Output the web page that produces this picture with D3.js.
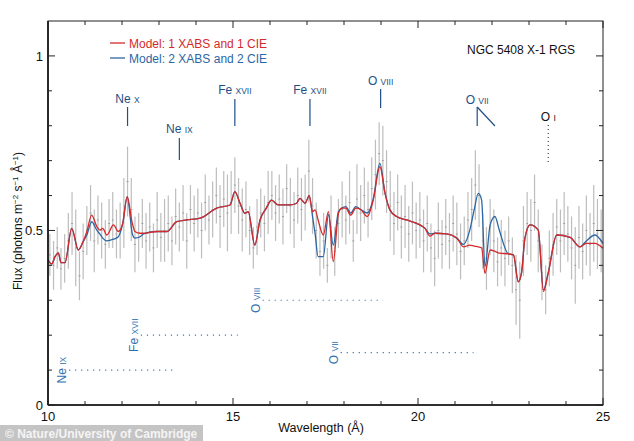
<!DOCTYPE html>
<html>
<head>
<meta charset="utf-8">
<script src="https://cdn.jsdelivr.net/npm/d3@7"></script>
<style>
  body { margin: 0; background: #fff; }
  svg { font-family: "Liberation Sans", Arial, Helvetica, sans-serif; }
</style>
</head>
<body>
<div id="chart"></div>
<script>
// observed spectrum, 0.1 A bins
const binWave = [
  10.05, 10.15, 10.25, 10.35, 10.45, 10.55, 10.65, 10.75, 10.85, 10.95,
  11.05, 11.15, 11.25, 11.35, 11.45, 11.55, 11.65, 11.75, 11.85, 11.95,
  12.05, 12.15, 12.25, 12.35, 12.45, 12.55, 12.65, 12.75, 12.85, 12.95,
  13.05, 13.15, 13.25, 13.35, 13.45, 13.55, 13.65, 13.75, 13.85, 13.95,
  14.05, 14.15, 14.25, 14.35, 14.45, 14.55, 14.65, 14.75, 14.85, 14.95,
  15.05, 15.15, 15.25, 15.35, 15.45, 15.55, 15.65, 15.75, 15.85, 15.95,
  16.05, 16.15, 16.25, 16.35, 16.45, 16.55, 16.65, 16.75, 16.85, 16.95,
  17.05, 17.15, 17.25, 17.35, 17.45, 17.55, 17.65, 17.75, 17.85, 17.95,
  18.05, 18.15, 18.25, 18.35, 18.45, 18.55, 18.65, 18.75, 18.85, 18.95,
  19.05, 19.15, 19.25, 19.35, 19.45, 19.55, 19.65, 19.75, 19.85, 19.95,
  20.05, 20.15, 20.25, 20.35, 20.45, 20.55, 20.65, 20.75, 20.85, 20.95,
  21.05, 21.15, 21.25, 21.35, 21.45, 21.55, 21.65, 21.75, 21.85, 21.95,
  22.05, 22.15, 22.25, 22.35, 22.45, 22.55, 22.65, 22.75, 22.85, 22.95,
  23.05, 23.15, 23.25, 23.35, 23.45, 23.55, 23.65, 23.75, 23.85, 23.95,
  24.05, 24.15, 24.25, 24.35, 24.45, 24.55, 24.65, 24.75, 24.85, 24.95
];
const binFlux = [
  0.43, 0.40, 0.45, 0.39, 0.42, 0.47, 0.52, 0.45, 0.37, 0.44,
  0.50, 0.55, 0.47, 0.53, 0.50, 0.46, 0.52, 0.53, 0.49, 0.50,
  0.55, 0.64, 0.56, 0.46, 0.48, 0.52, 0.47, 0.51, 0.45, 0.53,
  0.48, 0.50, 0.52, 0.47, 0.54, 0.51, 0.55, 0.47, 0.56, 0.52,
  0.55, 0.50, 0.58, 0.53, 0.56, 0.60, 0.54, 0.59, 0.55, 0.58,
  0.63, 0.57, 0.53, 0.56, 0.50, 0.45, 0.51, 0.55, 0.52, 0.58,
  0.60, 0.55, 0.59, 0.54, 0.62, 0.57, 0.53, 0.60, 0.56, 0.58,
  0.67, 0.57, 0.50, 0.44, 0.47, 0.40, 0.51, 0.44, 0.52, 0.56,
  0.53, 0.58, 0.47, 0.59, 0.55, 0.60, 0.56, 0.62, 0.66, 0.72,
  0.70, 0.64, 0.57, 0.52, 0.58, 0.51, 0.54, 0.49, 0.55, 0.50,
  0.53, 0.47, 0.52, 0.45, 0.42, 0.50, 0.46, 0.51, 0.47, 0.52,
  0.49, 0.44, 0.47, 0.53, 0.56, 0.63, 0.60, 0.47, 0.42, 0.51,
  0.47, 0.41, 0.45, 0.42, 0.47, 0.40, 0.33, 0.30, 0.47, 0.52,
  0.50, 0.58, 0.47, 0.38, 0.33, 0.42, 0.46, 0.51, 0.47, 0.52,
  0.49, 0.45, 0.40, 0.48, 0.44, 0.50, 0.46, 0.52, 0.49, 0.47
];
const binErr = [
  0.06, 0.07, 0.06, 0.06, 0.07, 0.08, 0.09, 0.11, 0.07, 0.08,
  0.07, 0.08, 0.09, 0.07, 0.08, 0.07, 0.07, 0.08, 0.07, 0.08,
  0.10, 0.10, 0.09, 0.08, 0.07, 0.07, 0.08, 0.07, 0.07, 0.08,
  0.07, 0.09, 0.08, 0.07, 0.08, 0.07, 0.08, 0.08, 0.07, 0.08,
  0.07, 0.08, 0.08, 0.07, 0.08, 0.08, 0.09, 0.08, 0.11, 0.09,
  0.08, 0.08, 0.09, 0.08, 0.07, 0.06, 0.08, 0.07, 0.08, 0.09,
  0.07, 0.08, 0.07, 0.08, 0.07, 0.08, 0.08, 0.08, 0.09, 0.08,
  0.09, 0.08, 0.08, 0.07, 0.08, 0.05, 0.09, 0.07, 0.07, 0.08,
  0.07, 0.09, 0.06, 0.10, 0.08, 0.08, 0.08, 0.09, 0.10, 0.09,
  0.10, 0.09, 0.10, 0.09, 0.08, 0.09, 0.09, 0.08, 0.09, 0.08,
  0.08, 0.09, 0.08, 0.07, 0.08, 0.08, 0.07, 0.08, 0.08, 0.08,
  0.09, 0.08, 0.07, 0.08, 0.09, 0.10, 0.09, 0.08, 0.09, 0.08,
  0.09, 0.07, 0.08, 0.08, 0.07, 0.08, 0.10, 0.11, 0.10, 0.09,
  0.09, 0.08, 0.09, 0.08, 0.07, 0.08, 0.09, 0.08, 0.09, 0.09,
  0.08, 0.09, 0.11, 0.09, 0.08, 0.10, 0.09, 0.11, 0.10, 0.09
];

// model curves
const modelWave = [
  10.00, 10.10, 10.19, 10.28, 10.35, 10.46, 10.64, 10.82, 10.95, 11.05,
  11.18, 11.32, 11.40, 11.48, 11.59, 11.77, 11.90, 12.02, 12.14, 12.28,
  12.35, 12.49, 12.58, 12.94, 13.21, 13.48, 13.75, 14.11, 14.56, 14.92,
  15.05, 15.19, 15.32, 15.41, 15.59, 15.73, 15.90, 16.04, 16.22, 16.54,
  16.72, 16.81, 16.95, 17.06, 17.15, 17.22, 17.30, 17.44, 17.58, 17.71,
  17.85, 17.94, 18.05, 18.18, 18.32, 18.45, 18.63, 18.79, 18.97, 19.11,
  19.24, 19.42, 19.69, 20.05, 20.19, 20.32, 20.46, 20.77, 21.05, 21.23,
  21.40, 21.52, 21.63, 21.72, 21.81, 21.95, 22.08, 22.20, 22.44, 22.58,
  22.71, 22.80, 22.89, 23.03, 23.25, 23.39, 23.52, 23.75, 24.11, 24.38,
  24.55, 24.78, 25.00
];
const model1 = [
  0.415, 0.404, 0.425, 0.436, 0.408, 0.408, 0.506, 0.444, 0.468, 0.497,
  0.544, 0.511, 0.501, 0.506, 0.487, 0.516, 0.497, 0.520, 0.597, 0.520,
  0.497, 0.492, 0.492, 0.497, 0.497, 0.525, 0.530, 0.535, 0.564, 0.573,
  0.611, 0.578, 0.549, 0.554, 0.458, 0.530, 0.564, 0.587, 0.573, 0.573,
  0.578, 0.592, 0.578, 0.600, 0.554, 0.559, 0.530, 0.487, 0.554, 0.411,
  0.549, 0.564, 0.564, 0.544, 0.564, 0.560, 0.540, 0.587, 0.683, 0.606,
  0.559, 0.540, 0.530, 0.516, 0.506, 0.484, 0.492, 0.490, 0.478, 0.453,
  0.458, 0.455, 0.453, 0.450, 0.377, 0.444, 0.440, 0.435, 0.433, 0.430,
  0.353, 0.380, 0.478, 0.516, 0.501, 0.325, 0.377, 0.487, 0.480, 0.453,
  0.463, 0.463, 0.449
];
const model2 = [
  0.415, 0.404, 0.425, 0.436, 0.408, 0.408, 0.506, 0.444, 0.468, 0.487,
  0.525, 0.501, 0.490, 0.478, 0.470, 0.475, 0.482, 0.520, 0.597, 0.490,
  0.478, 0.482, 0.490, 0.497, 0.497, 0.525, 0.530, 0.535, 0.564, 0.573,
  0.611, 0.578, 0.549, 0.554, 0.458, 0.530, 0.564, 0.587, 0.573, 0.573,
  0.578, 0.592, 0.578, 0.600, 0.540, 0.490, 0.425, 0.425, 0.545, 0.458,
  0.554, 0.564, 0.568, 0.550, 0.568, 0.560, 0.550, 0.590, 0.692, 0.606,
  0.559, 0.540, 0.530, 0.516, 0.506, 0.490, 0.492, 0.490, 0.478, 0.460,
  0.501, 0.560, 0.606, 0.587, 0.396, 0.516, 0.540, 0.500, 0.433, 0.430,
  0.353, 0.380, 0.478, 0.516, 0.501, 0.330, 0.380, 0.487, 0.480, 0.453,
  0.470, 0.487, 0.463
];

// line identifications
const topLines = [
  { ion: "Ne", stage: "X", wave: 12.15, ty: 103, y1: 107, y2: 126 },
  { ion: "Ne", stage: "IX", wave: 13.55, ty: 133, y1: 138, y2: 160 },
  { ion: "Fe", stage: "XVII", wave: 15.05, ty: 94, y1: 99, y2: 126 },
  { ion: "Fe", stage: "XVII", wave: 17.08, ty: 94, y1: 99, y2: 126 },
  { ion: "O", stage: "VIII", wave: 18.99, ty: 85, y1: 89, y2: 108 },
  { ion: "O", stage: "VII", wave: 21.6, ty: 104, y1: 107, y2: 126 }
];
const edgeLines = [
  { ion: "Ne", stage: "IX", flux: 0.1, w1: 10.57, w2: 13.4 },
  { ion: "Fe", stage: "XVII", flux: 0.2, w1: 12.51, w2: 15.13 },
  { ion: "O", stage: "VIII", flux: 0.3, w1: 15.8, w2: 19.05 },
  { ion: "O", stage: "VII", flux: 0.15, w1: 17.91, w2: 21.5 }
];

const W = 634, H = 441;
const x = d3.scaleLinear().domain([10, 25]).range([48, 603]);
const y = d3.scaleLinear().domain([0, 1.1]).range([405, 21]);

const svg = d3.select("#chart").append("svg")
  .attr("width", W).attr("height", H);

const red = "#d42a2a", blue = "#2c67a3", labelBlue = "#1f4f86";

// error bars
svg.append("g").selectAll("line")
  .data(binWave)
  .enter().append("line")
    .attr("x1", d => x(d)).attr("x2", d => x(d))
    .attr("y1", (d, i) => y(binFlux[i] - binErr[i]))
    .attr("y2", (d, i) => y(binFlux[i] + binErr[i]))
    .attr("stroke", "#bdbdbd")
    .attr("stroke-width", 1.2);

svg.append("g").selectAll("line")
  .data(binWave)
  .enter().append("line")
    .attr("x1", d => x(d) - 1).attr("x2", d => x(d) + 1)
    .attr("y1", (d, i) => y(binFlux[i])).attr("y2", (d, i) => y(binFlux[i]))
    .attr("stroke", "#a0a0a0")
    .attr("stroke-width", 1);

// models
const line = d3.line()
  .x(d => x(d[0])).y(d => y(d[1]))
  .curve(d3.curveMonotoneX);

svg.append("path")
  .datum(modelWave.map((w, i) => [w, model2[i]]))
  .attr("d", line).attr("fill", "none")
  .attr("stroke", blue).attr("stroke-width", 1.3);

svg.append("path")
  .datum(modelWave.map((w, i) => [w, model1[i]]))
  .attr("d", line).attr("fill", "none")
  .attr("stroke", red).attr("stroke-width", 1.3);

// frame and ticks
svg.append("rect")
  .attr("x", x(10)).attr("y", y(1.1))
  .attr("width", x(25) - x(10)).attr("height", y(0) - y(1.1))
  .attr("fill", "none").attr("stroke", "#222").attr("stroke-width", 1);
svg.append("line").attr("x1", x(10)).attr("x2", x(10)).attr("y1", y(1.1)).attr("y2", y(0))
  .attr("stroke", "#111").attr("stroke-width", 1.6);
svg.append("line").attr("x1", x(10)).attr("x2", x(25)).attr("y1", y(0)).attr("y2", y(0))
  .attr("stroke", "#111").attr("stroke-width", 1.6);

const xTicks = d3.range(10, 26, 1);
const yTicks = d3.range(0, 11, 1).map(d => d / 10);
const ticks = svg.append("g").attr("stroke", "#222").attr("stroke-width", 1);
xTicks.forEach(t => {
  const len = t % 5 === 0 ? 7 : 4;
  ticks.append("line").attr("x1", x(t)).attr("x2", x(t)).attr("y1", y(0)).attr("y2", y(0) - len);
  ticks.append("line").attr("x1", x(t)).attr("x2", x(t)).attr("y1", y(1.1)).attr("y2", y(1.1) + len);
});
yTicks.forEach(t => {
  const len = Math.round(t * 10) % 5 === 0 ? 7 : 4;
  ticks.append("line").attr("x1", x(10)).attr("x2", x(10) + len).attr("y1", y(t)).attr("y2", y(t));
  ticks.append("line").attr("x1", x(25)).attr("x2", x(25) - len).attr("y1", y(t)).attr("y2", y(t));
});

svg.append("g").selectAll("text")
  .data([10, 15, 20, 25])
  .enter().append("text")
    .attr("x", d => x(d)).attr("y", 421)
    .attr("text-anchor", "middle").attr("font-size", 13).attr("fill", "#111")
    .text(d => d);

svg.append("g").selectAll("text")
  .data([0, 0.5, 1])
  .enter().append("text")
    .attr("x", 43).attr("y", d => y(d) + 5)
    .attr("text-anchor", "end").attr("font-size", 13).attr("fill", "#111")
    .text(d => d);

// axis titles
svg.append("text")
  .attr("x", 321).attr("y", 432)
  .attr("text-anchor", "middle").attr("font-size", 12.5).attr("fill", "#111")
  .text("Wavelength (Å)");

const yt = svg.append("text")
  .attr("transform", "translate(22,221) rotate(-90)")
  .attr("text-anchor", "middle").attr("font-size", 12).attr("fill", "#111");
yt.append("tspan").text("Flux (photons m");
yt.append("tspan").attr("dy", -4).attr("font-size", 8).text("−2");
yt.append("tspan").attr("dy", 4).text(" s");
yt.append("tspan").attr("dy", -4).attr("font-size", 8).text("−1");
yt.append("tspan").attr("dy", 4).text(" Å");
yt.append("tspan").attr("dy", -4).attr("font-size", 8).text("−1");
yt.append("tspan").attr("dy", 4).text(")");

// legend
[[red, "Model: 1 XABS and 1 CIE", 43], [blue, "Model: 2 XABS and 2 CIE", 58]].forEach(d => {
  svg.append("line").attr("x1", 110).attr("x2", 125).attr("y1", d[2]).attr("y2", d[2])
    .attr("stroke", d[0]).attr("stroke-width", 1.3);
  svg.append("text").attr("x", 129).attr("y", d[2] + 4.5)
    .attr("font-size", 12).attr("fill", d[0]).text(d[1]);
});

svg.append("text").attr("x", 467).attr("y", 54)
  .attr("font-size", 12).attr("fill", "#111").text("NGC 5408 X-1 RGS");

// emission / absorption line markers
topLines.forEach(d => {
  const t = svg.append("text")
    .attr("x", x(d.wave)).attr("y", d.ty)
    .attr("text-anchor", "middle").attr("fill", labelBlue).attr("font-size", 12);
  t.append("tspan").text(d.ion + " ");
  t.append("tspan").attr("font-size", 8.5).text(d.stage);
  svg.append("line")
    .attr("x1", x(d.wave)).attr("x2", x(d.wave))
    .attr("y1", d.y1).attr("y2", d.y2)
    .attr("stroke", labelBlue).attr("stroke-width", 1.2);
});
// O VII forbidden line diagonal
svg.append("line")
  .attr("x1", x(21.6)).attr("y1", 107)
  .attr("x2", x(22.08)).attr("y2", 126)
  .attr("stroke", labelBlue).attr("stroke-width", 1.2);

// O I
const oi = svg.append("text")
  .attr("x", x(23.52)).attr("y", 121)
  .attr("text-anchor", "middle").attr("fill", "#111").attr("font-size", 12);
oi.append("tspan").text("O ");
oi.append("tspan").attr("font-size", 8.5).text("I");
svg.append("line")
  .attr("x1", x(23.52)).attr("x2", x(23.52)).attr("y1", 125).attr("y2", 162)
  .attr("stroke", "#444").attr("stroke-width", 1.2).attr("stroke-dasharray", "1,3");

// edges
edgeLines.forEach(d => {
  svg.append("line")
    .attr("x1", x(d.w1)).attr("x2", x(d.w2))
    .attr("y1", y(d.flux)).attr("y2", y(d.flux))
    .attr("stroke", "#3f77ad").attr("stroke-width", 1.2).attr("stroke-dasharray", "1.2,4.8");
  const t = svg.append("text")
    .attr("transform", `translate(${x(d.w1) - 3},${y(d.flux)}) rotate(-90)`)
    .attr("text-anchor", "middle").attr("fill", "#2f70b0").attr("font-size", 12);
  t.append("tspan").text(d.ion + " ");
  t.append("tspan").attr("font-size", 8.5).text(d.stage);
});

// watermark
svg.append("rect").attr("x", 0).attr("y", 425).attr("width", 203).attr("height", 16)
  .attr("fill", "#c4c4c4");
svg.append("text").attr("x", 5).attr("y", 438)
  .attr("font-size", 12).attr("font-weight", "bold").attr("fill", "#f4f4f4")
  .text("© Nature/University of Cambridge");
</script>
</body>
</html>
